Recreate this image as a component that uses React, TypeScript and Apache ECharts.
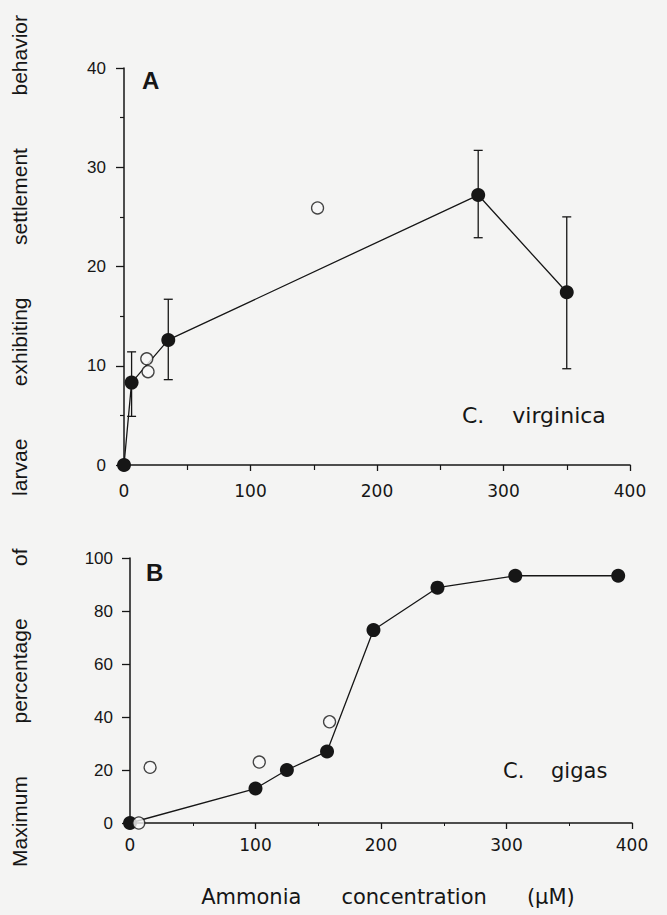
import React, { useEffect, useRef } from "react";
import * as echarts from "echarts";

// Panel A: C. virginica
const aLineX = [0, 6, 35, 280, 350];
const aLineY = [0, 8.3, 12.6, 27.2, 17.4];
const aErrX = [6, 35, 280, 350];
const aErrLow = [4.9, 8.6, 22.9, 9.7];
const aErrHigh = [11.4, 16.7, 31.7, 25.0];
const aOpenX = [18, 19, 153];
const aOpenY = [10.7, 9.4, 25.9];

// Panel B: C. gigas
const bLineX = [0, 100, 125, 157, 194, 245, 307, 389];
const bLineY = [0, 13, 20, 27, 72.8, 88.8, 93.3, 93.3];
const bOpenX = [7, 16, 103, 159];
const bOpenY = [0, 21, 23, 38.2];

const INK = "#161616";
const FONT = "'Liberation Sans', Arial, sans-serif";
const WIDE = "'DejaVu Sans', 'Open Sans', sans-serif";

export default function App() {
  const ref = useRef<HTMLDivElement>(null);
  useEffect(() => {
    if (!ref.current) return;
    const chart = echarts.init(ref.current, undefined, { renderer: "svg" });
    const axisLine = { show: true, lineStyle: { color: INK, width: 1.5 } };
    const lbl = (margin: number, size: number, fam: string) => ({
      color: INK,
      fontSize: size,
      fontFamily: fam,
      margin,
    });
    const errRender = (params: any, api: any) => {
      const x = api.value(0);
      const lo = api.coord([x, api.value(1)]);
      const hi = api.coord([x, api.value(2)]);
      const w = 4.5;
      const st = { stroke: INK, lineWidth: 1.3 };
      return {
        type: "group",
        children: [
          { type: "line", shape: { x1: lo[0], y1: lo[1], x2: hi[0], y2: hi[1] }, style: st },
          { type: "line", shape: { x1: lo[0] - w, y1: lo[1], x2: lo[0] + w, y2: lo[1] }, style: st },
          { type: "line", shape: { x1: hi[0] - w, y1: hi[1], x2: hi[0] + w, y2: hi[1] }, style: st },
        ],
      };
    };
    const option: any = {
      animation: false,
      backgroundColor: "#f4f4f3",
      grid: [
        { left: 124, right: 37, top: 68, height: 397 },
        { left: 130, right: 35, top: 558, height: 265 },
      ],
      xAxis: [
        {
          gridIndex: 0, type: "value", min: 0, max: 400, interval: 100,
          axisLine, splitLine: { show: false },
          axisTick: { show: true, length: 6, lineStyle: { color: INK, width: 1.3 } },
          minorTick: { show: true, splitNumber: 2, length: 5, lineStyle: { color: INK, width: 1.2 } },
          axisLabel: lbl(17, 17, WIDE),
        },
        {
          gridIndex: 1, type: "value", min: 0, max: 400, interval: 100,
          axisLine, splitLine: { show: false },
          axisTick: { show: true, length: 6, lineStyle: { color: INK, width: 1.3 } },
          minorTick: { show: true, splitNumber: 2, length: 3, lineStyle: { color: INK, width: 1 } },
          axisLabel: lbl(13, 17, WIDE),
        },
      ],
      yAxis: [
        {
          gridIndex: 0, type: "value", min: 0, max: 40, interval: 10,
          axisLine, splitLine: { show: false },
          axisTick: { show: true, length: 8, lineStyle: { color: INK, width: 1.3 } },
          minorTick: { show: true, splitNumber: 2, length: 4, lineStyle: { color: INK, width: 1.2 } },
          axisLabel: lbl(18, 17, FONT),
        },
        {
          gridIndex: 1, type: "value", min: 0, max: 100, interval: 20,
          axisLine, splitLine: { show: false },
          axisTick: { show: true, length: 8, lineStyle: { color: INK, width: 1.3 } },
          axisLabel: lbl(17, 17, FONT),
        },
      ],
      series: [
        {
          type: "custom", xAxisIndex: 0, yAxisIndex: 0, z: 3,
          renderItem: errRender,
          data: aErrX.map((x, i) => [x, aErrLow[i], aErrHigh[i]]),
        },
        {
          type: "line", xAxisIndex: 0, yAxisIndex: 0, z: 4,
          data: aLineX.map((x, i) => [x, aLineY[i]]),
          symbol: "circle", symbolSize: 14,
          lineStyle: { color: INK, width: 1.3 },
          itemStyle: { color: INK, borderWidth: 0 },
        },
        {
          type: "scatter", xAxisIndex: 0, yAxisIndex: 0, z: 5,
          data: aOpenX.map((x, i) => [x, aOpenY[i]]),
          symbol: "circle", symbolSize: 12,
          itemStyle: { color: "#f7f7f7", borderColor: INK, borderWidth: 1.3 },
        },
        {
          type: "line", xAxisIndex: 1, yAxisIndex: 1, z: 4,
          data: bLineX.map((x, i) => [x, bLineY[i]]),
          symbol: "circle", symbolSize: 14,
          lineStyle: { color: INK, width: 1.3 },
          itemStyle: { color: INK, borderWidth: 0 },
        },
        {
          type: "scatter", xAxisIndex: 1, yAxisIndex: 1, z: 5,
          data: bOpenX.map((x, i) => [x, bOpenY[i]]),
          symbol: "circle", symbolSize: 12,
          itemStyle: { color: "#f7f7f7", borderColor: INK, borderWidth: 1.3 },
        },
      ],
      graphic: [
        { type: "text", left: 142, top: 68, style: { text: "A", fontSize: 24, fontWeight: "bold", fontFamily: FONT, fill: INK } },
        { type: "text", left: 146, top: 560, style: { text: "B", fontSize: 24, fontWeight: "bold", fontFamily: FONT, fill: INK } },
        { type: "text", left: 462, top: 404, style: { text: "C.    virginica", fontSize: 22, fontFamily: WIDE, fill: INK } },
        { type: "text", left: 503, top: 760, style: { text: "C.    gigas", fontSize: 21, fontFamily: WIDE, fill: INK } },
        {
          type: "text", x: 19, y: 441, rotation: Math.PI / 2,
          style: {
            text: "Maximum         percentage         of         larvae         exhibiting         settlement         behavior",
            fontSize: 21, fontFamily: FONT, fill: INK, align: "center", verticalAlign: "middle",
          },
        },
        {
          type: "text", x: 388, y: 897,
          style: {
            text: "Ammonia      concentration      (μM)",
            fontSize: 21, fontFamily: WIDE, fill: INK, align: "center", verticalAlign: "middle",
          },
        },
      ],
    };
    chart.setOption(option);
    return () => chart.dispose();
  }, []);
  return (
    <div
      ref={ref}
      style={{ position: "fixed", left: 0, top: 0, width: 667, height: 915 }}
    />
  );
}
